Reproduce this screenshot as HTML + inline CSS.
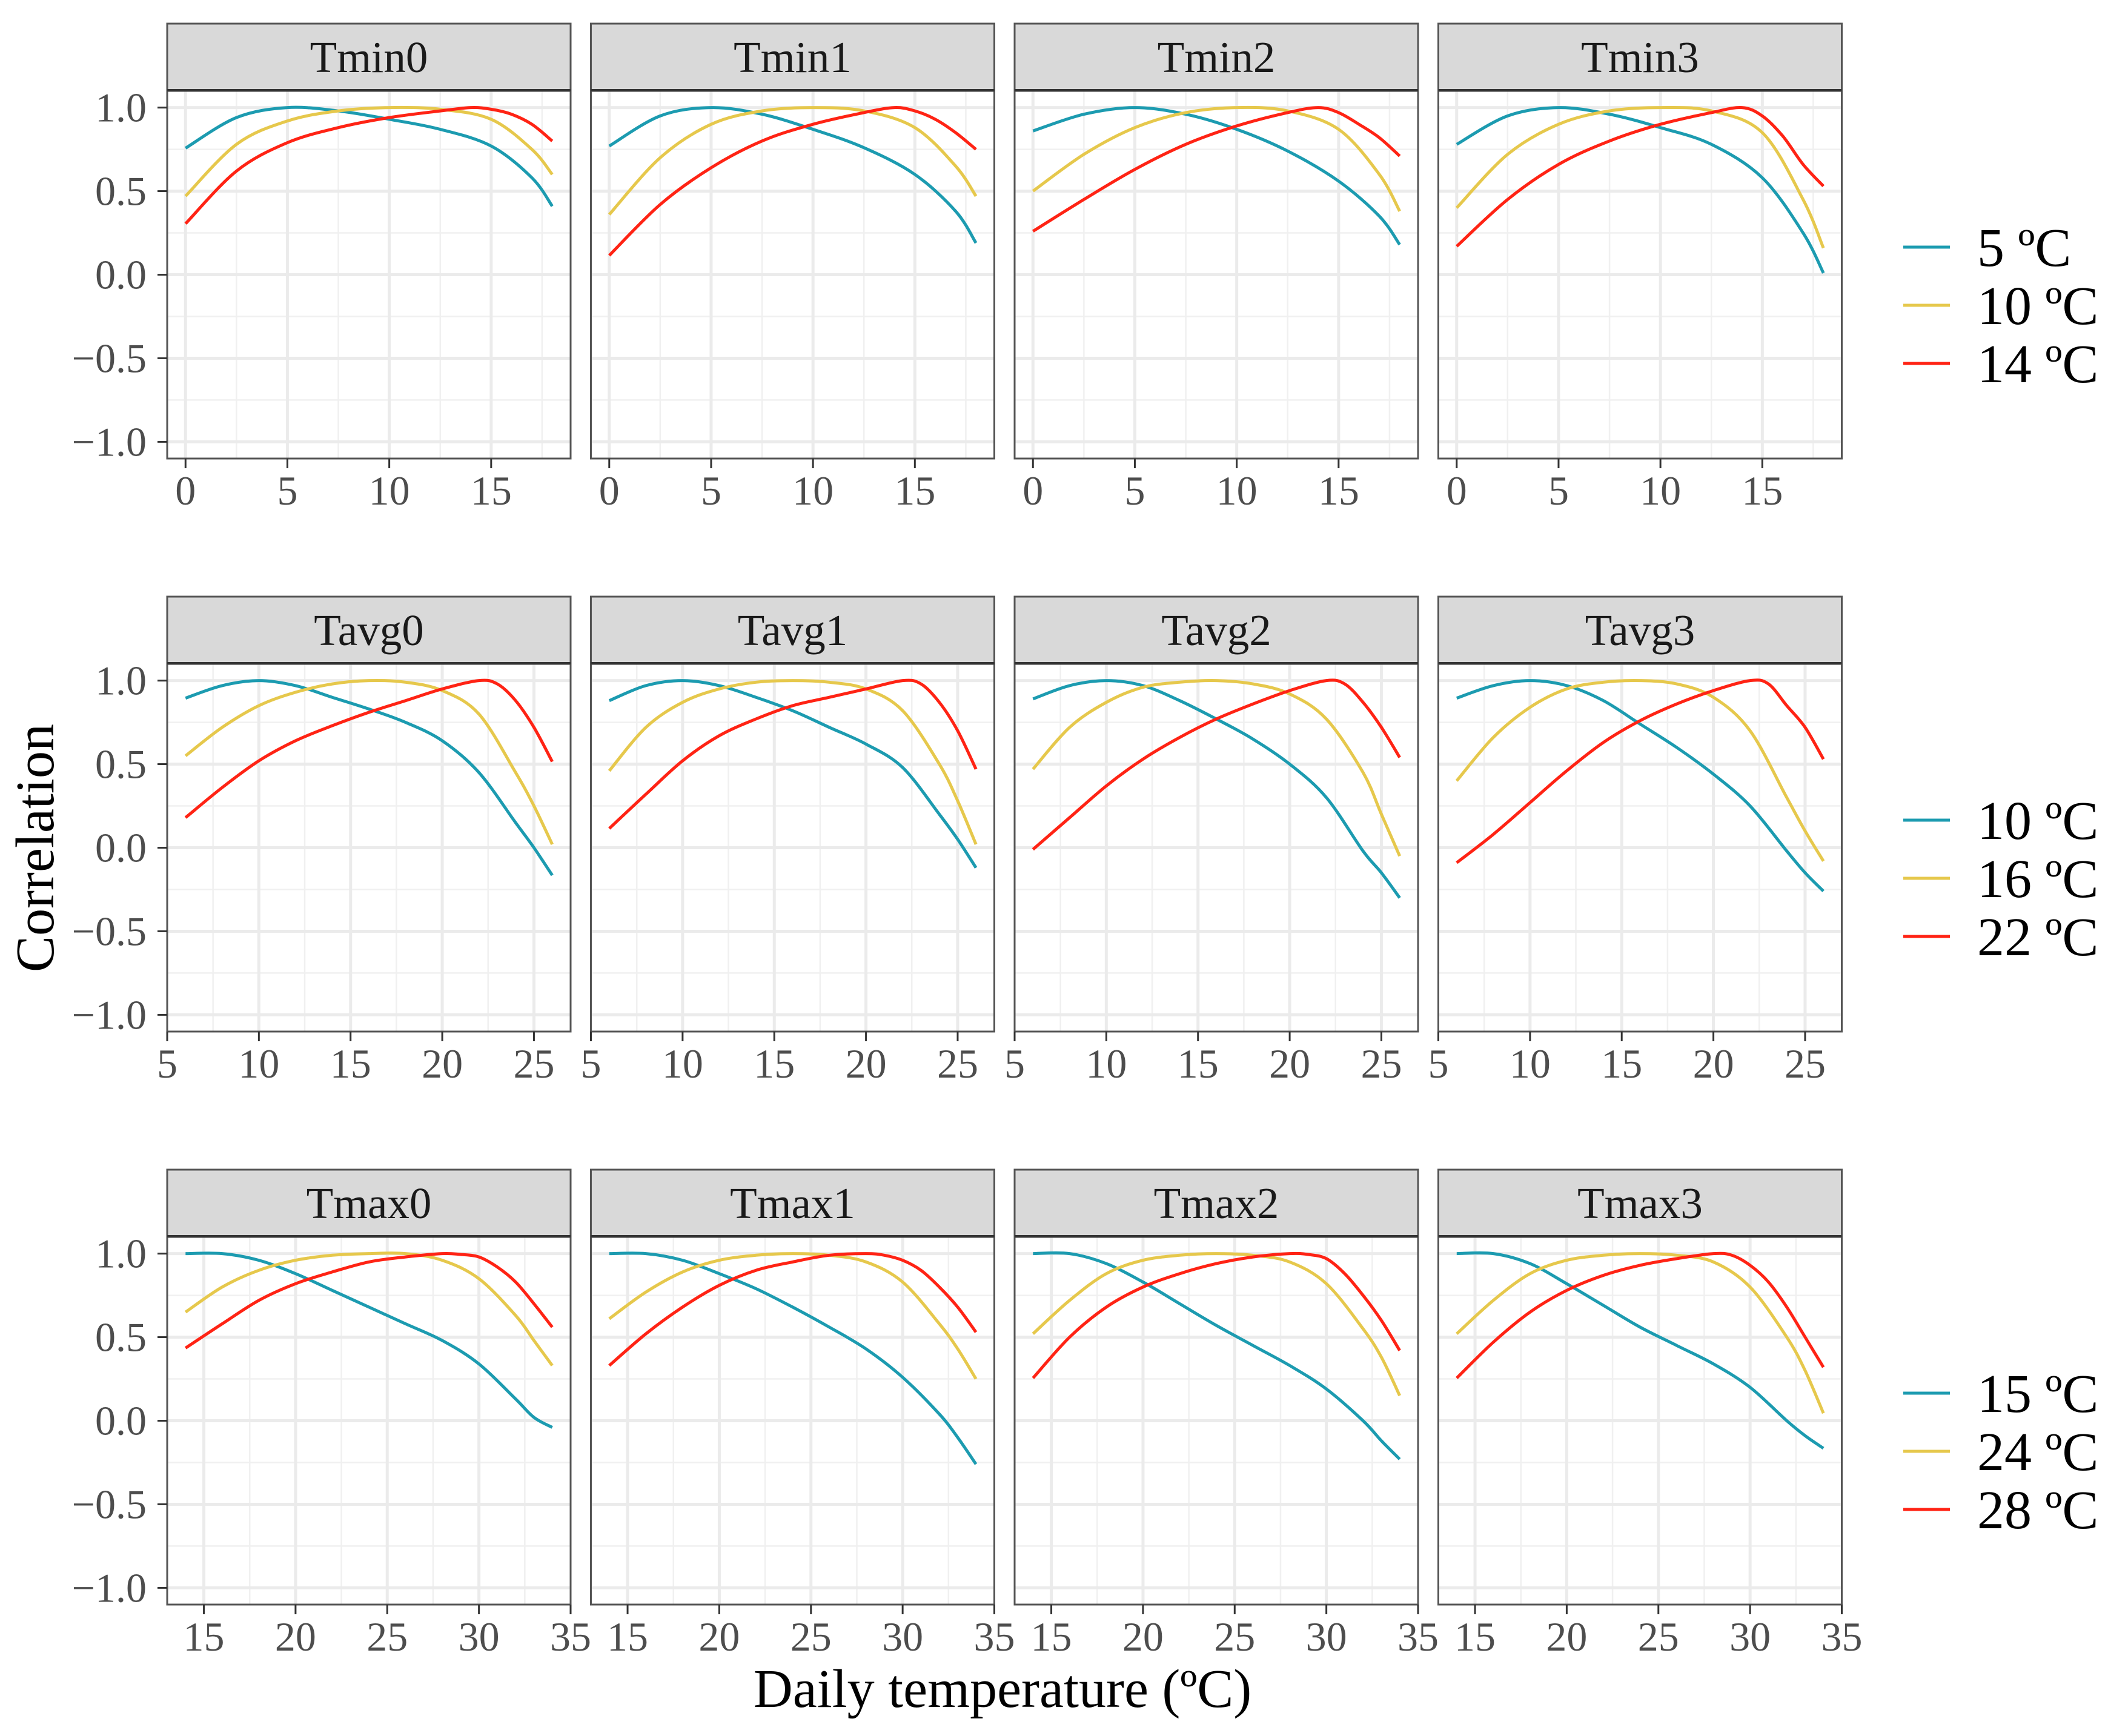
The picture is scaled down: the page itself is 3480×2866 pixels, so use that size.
<!DOCTYPE html>
<html><head><meta charset="utf-8">
<style>
html,body{margin:0;padding:0;background:#fff;}
svg{display:block;}
text{font-family:"Liberation Serif","Times New Roman",serif;}
</style></head>
<body>
<svg id="chart" width="3480" height="2866" viewBox="0 0 3480 2866" xmlns="http://www.w3.org/2000/svg">
<rect x="0" y="0" width="3480" height="2866" fill="#fff"/>
<g id="panels"></g>
<text x="0" y="0" transform="translate(88,1400) rotate(-90)" text-anchor="middle" font-size="90" fill="#000">Correlation</text>
<text x="1655" y="2818" text-anchor="middle" font-size="90" fill="#000">Daily temperature (ºC)</text>
</svg>
<script>
// ---- data ----
const panelTitles = [["Tmin0","Tmin1","Tmin2","Tmin3"],["Tavg0","Tavg1","Tavg2","Tavg3"],["Tmax0","Tmax1","Tmax2","Tmax3"]];
const legendLabels = [["5 ºC","10 ºC","14 ºC"],["10 ºC","16 ºC","22 ºC"],["15 ºC","24 ºC","28 ºC"]];
const xDomains = [[-0.9,18.9],[5,27],[13,35]];
const xTickVals = [[0,5,10,15],[5,10,15,20,25],[15,20,25,30,35]];
const xMinorVals = [[2.5,7.5,12.5,17.5],[7.5,12.5,17.5,22.5],[17.5,22.5,27.5,32.5]];
const yTickVals = [-1,-0.5,0,0.5,1];
const yTickLabels = ["−1.0","−0.5","0.0","0.5","1.0"];
const yMinorVals = [-0.75,-0.25,0.25,0.75];

const xsTminBY = [0,2.5,5,7.5,10,12.5,15,17,18];
const xsTminR = [0,2.5,5,7.5,10,12.5,14,15,16,17,18];
const xsTavgBY = [6,8,10,12,14,16,18,20,22,24,25,26];
const xsTavgR = [6,8,10,12,14,16,18,20,22,23,24,25,26];
const xsTmaxBY = [14,16,18,20,22,24,26,28,30,32,33,34];
const xsTmaxR = [14,16,18,20,22,24,26,28,29,30,31,32,33,34];

const tmin0Blue = [0.757,0.94,1.0,0.98,0.93,0.87,0.77,0.58,0.41];
const tmin0Yellow = [0.47,0.78,0.92,0.98,1.0,0.99,0.93,0.75,0.6];
const tmin0Red = [0.305,0.62,0.79,0.88,0.94,0.98,1.0,0.99,0.96,0.9,0.8];
const tmin1Blue = [0.77,0.95,1.0,0.96,0.87,0.76,0.6,0.38,0.19];
const tmin1Yellow = [0.36,0.7,0.9,0.98,1.0,0.98,0.88,0.65,0.47];
const tmin1Red = [0.115,0.42,0.64,0.8,0.9,0.97,1.0,0.98,0.93,0.85,0.75];
const tmin2Blue = [0.86,0.96,1.0,0.96,0.87,0.74,0.56,0.35,0.18];
const tmin2Yellow = [0.5,0.72,0.88,0.97,1.0,0.98,0.87,0.6,0.38];
const tmin2Red = [0.26,0.45,0.63,0.78,0.89,0.97,1.0,0.97,0.9,0.82,0.71];
const tmin3Blue = [0.78,0.95,1.0,0.96,0.88,0.78,0.58,0.25,0.01];
const tmin3Yellow = [0.4,0.72,0.9,0.98,1.0,0.98,0.85,0.45,0.16];
const tmin3Red = [0.17,0.45,0.66,0.8,0.9,0.97,1.0,0.95,0.83,0.66,0.53];

const tavg0Blue = [0.895,0.97,1.0,0.97,0.9,0.83,0.75,0.64,0.45,0.15,0.0,-0.165];
const tavg0Yellow = [0.55,0.72,0.85,0.93,0.98,1.0,0.99,0.94,0.8,0.45,0.25,0.02];
const tavg0Red = [0.18,0.36,0.52,0.64,0.73,0.81,0.88,0.95,1.0,0.98,0.88,0.72,0.515];
const tavg1Blue = [0.88,0.97,1.0,0.97,0.9,0.82,0.72,0.62,0.48,0.2,0.05,-0.12];
const tavg1Yellow = [0.46,0.72,0.87,0.95,0.99,1.0,0.99,0.95,0.82,0.5,0.28,0.02];
const tavg1Red = [0.115,0.32,0.52,0.67,0.77,0.85,0.9,0.95,1.0,0.98,0.87,0.7,0.47];
const tavg2Blue = [0.89,0.97,1.0,0.97,0.88,0.77,0.65,0.5,0.3,-0.02,-0.15,-0.3];
const tavg2Yellow = [0.47,0.72,0.87,0.96,0.99,1.0,0.98,0.92,0.77,0.45,0.2,-0.05];
const tavg2Red = [-0.01,0.18,0.37,0.53,0.66,0.77,0.86,0.94,1.0,0.98,0.87,0.72,0.54];
const tavg3Blue = [0.895,0.97,1.0,0.97,0.88,0.74,0.6,0.44,0.25,-0.02,-0.15,-0.26];
const tavg3Yellow = [0.4,0.66,0.84,0.95,0.99,1.0,0.98,0.9,0.7,0.3,0.1,-0.08];
const tavg3Red = [-0.09,0.08,0.27,0.46,0.63,0.76,0.86,0.94,1.0,0.98,0.85,0.72,0.53];

const tmax0Blue = [1.0,1.0,0.96,0.88,0.78,0.68,0.58,0.48,0.34,0.13,0.02,-0.04];
const tmax0Yellow = [0.65,0.8,0.9,0.96,0.99,1.0,1.0,0.96,0.85,0.63,0.48,0.33];
const tmax0Red = [0.435,0.58,0.72,0.82,0.89,0.95,0.98,1.0,0.995,0.98,0.92,0.83,0.7,0.56];
const tmax1Blue = [1.0,1.0,0.96,0.88,0.79,0.68,0.56,0.43,0.26,0.04,-0.1,-0.26];
const tmax1Yellow = [0.61,0.77,0.89,0.96,0.99,1.0,0.99,0.95,0.83,0.58,0.43,0.25];
const tmax1Red = [0.33,0.52,0.68,0.81,0.9,0.95,0.99,1.0,0.99,0.96,0.9,0.8,0.68,0.53];
const tmax2Blue = [1.0,1.0,0.94,0.83,0.7,0.57,0.45,0.33,0.19,0.0,-0.12,-0.23];
const tmax2Yellow = [0.52,0.72,0.88,0.96,0.99,1.0,0.99,0.95,0.82,0.55,0.38,0.15];
const tmax2Red = [0.255,0.5,0.68,0.8,0.88,0.94,0.98,1.0,0.995,0.97,0.88,0.75,0.6,0.42];
const tmax3Blue = [1.0,1.0,0.94,0.82,0.69,0.56,0.45,0.34,0.2,0.0,-0.09,-0.165];
const tmax3Yellow = [0.52,0.72,0.88,0.96,0.99,1.0,0.99,0.95,0.8,0.5,0.3,0.045];
const tmax3Red = [0.255,0.47,0.65,0.78,0.87,0.93,0.97,1.0,0.99,0.93,0.83,0.68,0.5,0.32];

const seriesColors = ["#1c9bb0","#e6c84c","#ff2314"];
const rowXs = [[xsTminBY,xsTminBY,xsTminR],[xsTavgBY,xsTavgBY,xsTavgR],[xsTmaxBY,xsTmaxBY,xsTmaxR]];
const panelSeries = [
 [[tmin0Blue,tmin0Yellow,tmin0Red],[tmin1Blue,tmin1Yellow,tmin1Red],[tmin2Blue,tmin2Yellow,tmin2Red],[tmin3Blue,tmin3Yellow,tmin3Red]],
 [[tavg0Blue,tavg0Yellow,tavg0Red],[tavg1Blue,tavg1Yellow,tavg1Red],[tavg2Blue,tavg2Yellow,tavg2Red],[tavg3Blue,tavg3Yellow,tavg3Red]],
 [[tmax0Blue,tmax0Yellow,tmax0Red],[tmax1Blue,tmax1Yellow,tmax1Red],[tmax2Blue,tmax2Yellow,tmax2Red],[tmax3Blue,tmax3Yellow,tmax3Red]]
];

// ---- layout ----
const NS="http://www.w3.org/2000/svg";
const root=document.getElementById('panels');
const PL=276, PSTEP=699.5, PW=666, ROWSTEP=946, STRIPTOP=39, PTOP=150, PH=607;
function mk(tag, attrs, parent){const e=document.createElementNS(NS,tag);for(const k in attrs)e.setAttribute(k,attrs[k]);(parent||root).appendChild(e);return e;}
function pathFrom(pts){
  let d="M"+pts[0][0].toFixed(1)+","+pts[0][1].toFixed(1);
  for(let i=0;i<pts.length-1;i++){
    const p0=pts[Math.max(0,i-1)],p1=pts[i],p2=pts[i+1],p3=pts[Math.min(pts.length-1,i+2)];
    const c1x=p1[0]+(p2[0]-p0[0])/6,c1y=p1[1]+(p2[1]-p0[1])/6;
    const c2x=p2[0]-(p3[0]-p1[0])/6,c2y=p2[1]-(p3[1]-p1[1])/6;
    d+=" C"+c1x.toFixed(1)+","+c1y.toFixed(1)+" "+c2x.toFixed(1)+","+c2y.toFixed(1)+" "+p2[0].toFixed(1)+","+p2[1].toFixed(1);
  }
  return d;
}
for(let r=0;r<3;r++){
  const top=PTOP+r*ROWSTEP, stripTop=STRIPTOP+r*ROWSTEP;
  const [d0,d1]=xDomains[r];
  const yS=v=>top+PH*(1.1-v)/2.2;
  for(let c=0;c<4;c++){
    const left=PL+c*PSTEP;
    const xS=v=>left+PW*(v-d0)/(d1-d0);
    const g=mk('g',{});
    
    
    mk('rect',{x:left,y:top,width:PW,height:PH,fill:'#fff'},g);
    yMinorVals.forEach(v=>mk('line',{x1:left,x2:left+PW,y1:yS(v),y2:yS(v),stroke:'#f0f0f0','stroke-width':2.5},g));
    xMinorVals[r].forEach(v=>{const x=xS(v);if(x>left&&x<left+PW)mk('line',{x1:x,x2:x,y1:top,y2:top+PH,stroke:'#f0f0f0','stroke-width':2.5},g);});
    yTickVals.forEach(v=>mk('line',{x1:left,x2:left+PW,y1:yS(v),y2:yS(v),stroke:'#ebebeb','stroke-width':5},g));
    xTickVals[r].forEach(v=>{const x=xS(v);if(x>left+2&&x<left+PW-2)mk('line',{x1:x,x2:x,y1:top,y2:top+PH,stroke:'#ebebeb','stroke-width':5},g);});
    for(let s=0;s<3;s++){
      const xs=rowXs[r][s], ys=panelSeries[r][c][s];
      const pts=xs.map((x,i)=>[xS(x),yS(ys[i])]);
      const p=mk('path',{d:pathFrom(pts),fill:'none',stroke:seriesColors[s],'stroke-width':5,'stroke-linecap':'butt'},g);
      
      
    }
    mk('rect',{x:left,y:top,width:PW,height:PH,fill:'none',stroke:'#555','stroke-width':3},g);
    // strip
    const st=mk('rect',{x:left,y:stripTop,width:PW,height:PTOP-STRIPTOP,fill:'#d9d9d9',stroke:'#555','stroke-width':3},g);
    
    
    mk('line',{x1:left,x2:left+PW,y1:top-1,y2:top-1,stroke:'#333','stroke-width':4},g);
    const tt=mk('text',{x:left+PW/2,y:stripTop+80,'text-anchor':'middle','font-size':73,fill:'#1a1a1a'},g);
    tt.textContent=panelTitles[r][c];
    
    
    // x ticks
    xTickVals[r].forEach(v=>{
      const x=xS(v);
      mk('line',{x1:x,x2:x,y1:top+PH,y2:top+PH+16,stroke:'#333','stroke-width':3},g);
      const t=mk('text',{x:x,y:top+PH+76,'text-anchor':'middle','font-size':68,fill:'#4d4d4d'},g);
      t.textContent=String(v);
      
      
    });
    if(c===0){
      yTickVals.forEach((v,i)=>{
        mk('line',{x1:left-16,x2:left,y1:yS(v),y2:yS(v),stroke:'#333','stroke-width':3},g);
        const t=mk('text',{x:left-34,y:yS(v)+23,'text-anchor':'end','font-size':68,fill:'#4d4d4d'},g);
        t.textContent=yTickLabels[i];
        
        
      });
    }
  }
  // legend
  const lg=mk('g',{});
  
  
  for(let s=0;s<3;s++){
    const y=408+r*ROWSTEP+s*96;
    mk('line',{x1:3142,x2:3219,y1:y,y2:y,stroke:seriesColors[s],'stroke-width':5},lg);
    const t=mk('text',{x:3264,y:y+31,'font-size':90,fill:'#000'},lg);
    t.textContent=legendLabels[r][s];
    
    
  }
}
</script>
</body></html>
